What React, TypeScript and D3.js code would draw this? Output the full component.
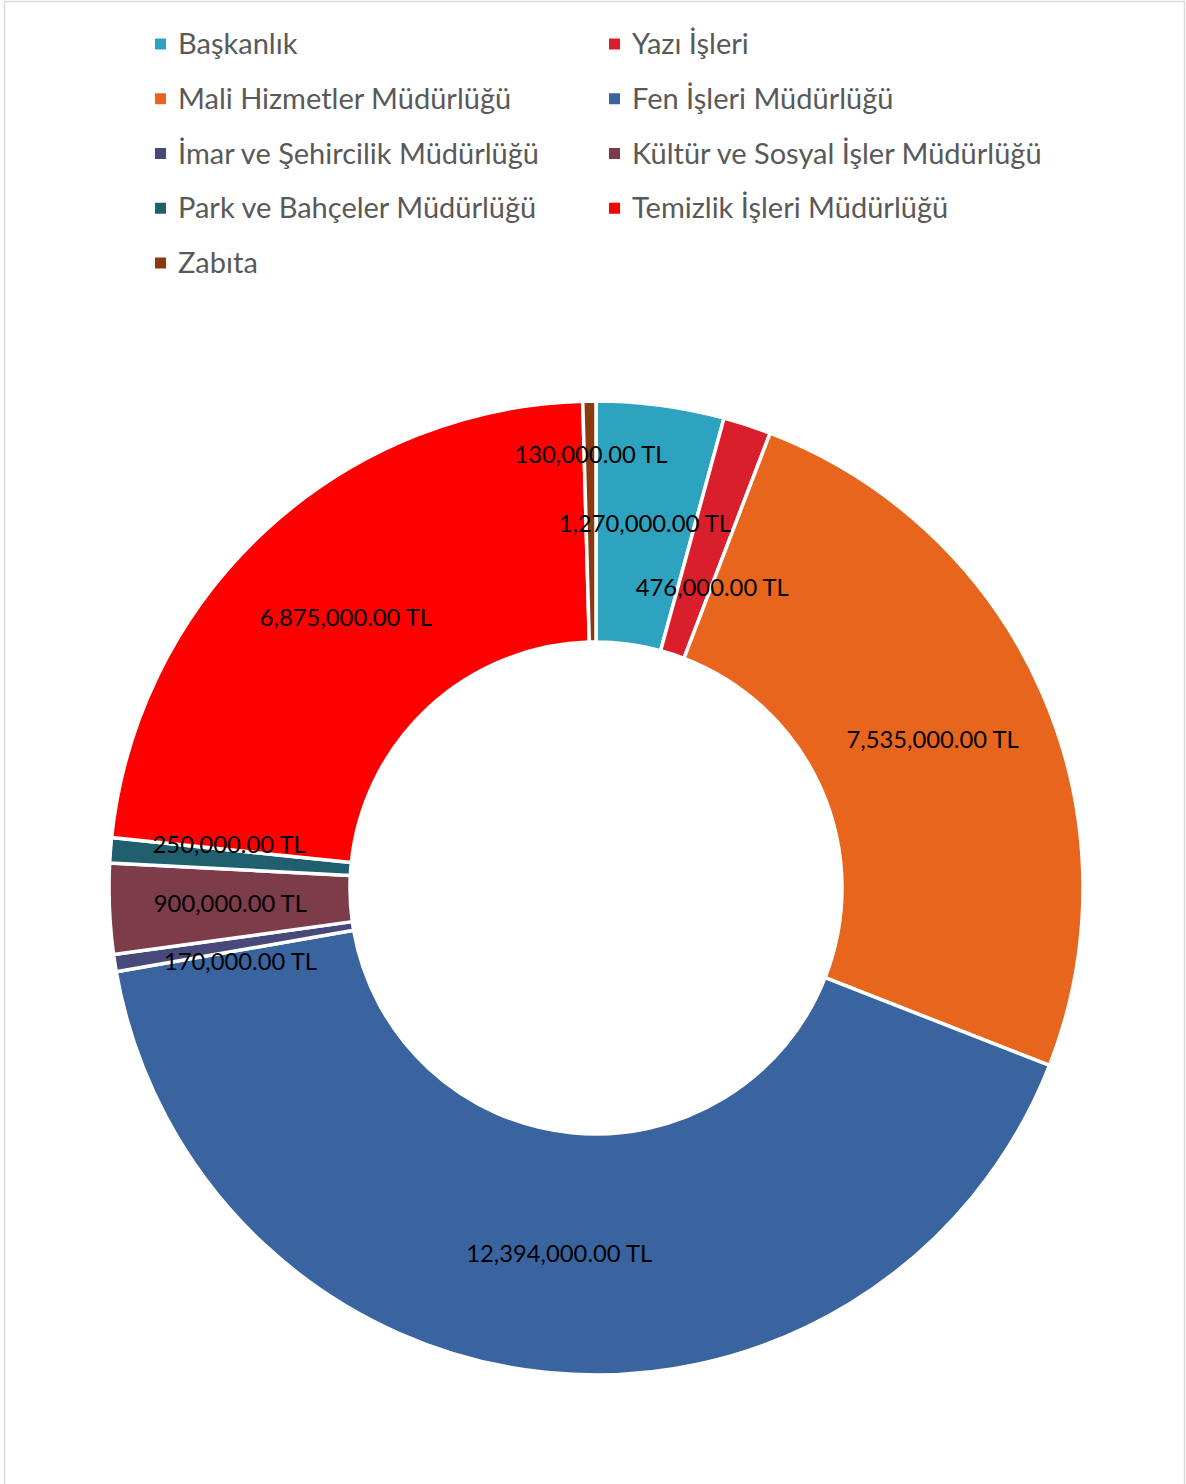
import React from "react";
import * as d3 from "d3";

const categories = [
  "Başkanlık",
  "Yazı İşleri",
  "Mali Hizmetler Müdürlüğü",
  "Fen İşleri Müdürlüğü",
  "İmar ve Şehircilik Müdürlüğü",
  "Kültür ve Sosyal İşler Müdürlüğü",
  "Park ve Bahçeler Müdürlüğü",
  "Temizlik İşleri Müdürlüğü",
  "Zabıta",
];
const values = [1270000, 476000, 7535000, 12394000, 170000, 900000, 250000, 6875000, 130000];
const colors = ["#2EA3BF", "#DA1F2C", "#E8651E", "#3A64A0", "#46497A", "#7D3C4A", "#1F5F6E", "#FF0000", "#8B3A0F"];
// label nudges (Excel best-fit placement adjustments)
const labelNudgeX = [0, 2, 0, 0, 8, 2, 0, 0, 0];
const labelNudgeY = [0, 49, 0, 0, 17, 0, -15, 0, -65];

const W = 1186;
const H = 1484;
const cx = 596;
const cy = 888;
const outerR = 487;
const innerR = 246;

const fmt = (v: number) => d3.format(",.2f")(v) + " TL";

export default function App() {
  const data = categories.map((c, i) => ({ name: c, value: values[i], color: colors[i], i }));
  const pie = d3.pie<any>().sort(null).value((d: any) => d.value).startAngle(0).endAngle(2 * Math.PI);
  const arcs = pie(data);
  const arc = d3.arc<any>().innerRadius(innerR).outerRadius(outerR);
  const labelArc = d3.arc<any>().innerRadius(248).outerRadius(488);

  const legendX = [155, 609];
  const legendY0 = 44;
  const legendStep = 54.75;

  return (
    <svg width={W} height={H} style={{ position: "absolute", left: 0, top: 0, background: "#fff" }}>
      <rect x={0} y={0} width={W} height={H} fill="#fff" />
      <rect x={4.5} y={1.5} width={1180} height={H + 10} fill="#fff" stroke="#d9d9d9" strokeWidth={1.5} />
      <g>
        {data.map((d, i) => {
          const col = i % 2;
          const row = Math.floor(i / 2);
          const y = legendY0 + row * legendStep;
          return (
            <g key={d.name} transform={`translate(${legendX[col]},${y})`}>
              <rect x={0} y={-5.5} width={11} height={11} fill={d.color} />
              <text x={23} y={0} dy="0.35em" fontFamily="Lato, 'Open Sans', sans-serif" fontSize={29} fill="#595959">
                {d.name}
              </text>
            </g>
          );
        })}
      </g>
      <g transform={`translate(${cx},${cy})`}>
        {arcs.map((a, i) => (
          <path key={i} d={arc(a) as string} fill={a.data.color} stroke="#fff" strokeWidth={3.5} strokeLinejoin="round" />
        ))}
        {arcs.map((a, i) => {
          const [x, y] = labelArc.centroid(a);
          return (
            <text
              key={"l" + i}
              x={x + labelNudgeX[i]}
              y={y + labelNudgeY[i]}
              dy="0.35em"
              textAnchor="middle"
              fontFamily="Lato, 'Open Sans', sans-serif"
              fontSize={23.8}
              fill="#000"
            >
              {fmt(a.data.value)}
            </text>
          );
        })}
      </g>
    </svg>
  );
}
